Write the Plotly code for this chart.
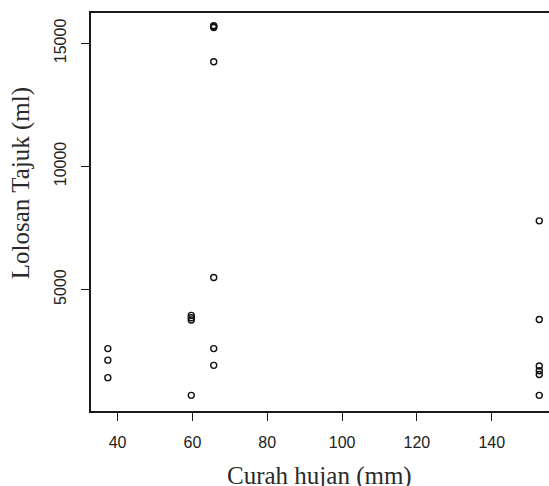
import plotly.graph_objects as go

# Data
curah_hujan = [37.4, 37.4, 37.4,
               59.7, 59.7, 59.7, 59.7,
               65.7, 65.7, 65.7, 65.7, 65.7, 65.7, 65.7,
               152.7, 152.7, 152.7, 152.7, 152.7, 152.7]
lolosan_tajuk = [2600, 2130, 1420,
                 3950, 3850, 3760, 700,
                 15720, 15640, 14250, 5490, 2600, 1920, 15680,
                 7790, 3780, 1890, 1700, 1550, 700]

x_ticks = [40, 60, 80, 100, 120, 140]
y_ticks = [5000, 10000, 15000]
x_title = "Curah hujan (mm)"
y_title = "Lolosan Tajuk (ml)"

fig = go.Figure()
fig.add_trace(go.Scatter(
    x=curah_hujan, y=lolosan_tajuk, mode="markers",
    marker=dict(symbol="circle-open", size=6, color="#111",
                line=dict(width=1.4, color="#111")),
    showlegend=False, hoverinfo="x+y"))

W, H = 549, 486
ml, mt, mb, mr = 91, 13, 75, 0
fig.update_layout(
    width=W, height=H,
    margin=dict(l=ml, r=mr, t=mt, b=mb, pad=0),
    paper_bgcolor="white", plot_bgcolor="white",
    xaxis=dict(range=[32.9, 155.3], tickvals=x_ticks, ticktext=[str(v) for v in x_ticks],
               showgrid=False, zeroline=False,
               showline=True, linecolor="#1a1a1a", linewidth=1.6, mirror=True,
               ticks="outside", ticklen=8, tickwidth=1.2, tickcolor="#1a1a1a",
               ticklabelstandoff=8,
               tickfont=dict(family="Liberation Sans", size=16, color="#222")),
    yaxis=dict(range=[65, 16232], tickvals=y_ticks, ticktext=[str(v) for v in y_ticks],
               showgrid=False, zeroline=False,
               showline=True, linecolor="#1a1a1a", linewidth=1.6, mirror=False,
               ticks="outside", ticklen=8, tickwidth=1.2, tickcolor="#1a1a1a",
               tickangle=-90, ticklabelstandoff=9,
               tickfont=dict(family="Liberation Sans", size=16, color="#222")),
    annotations=[
        dict(text=x_title, xref="paper", yref="paper", x=0.498, y=-0.124,
             xanchor="center", yanchor="top", showarrow=False,
             font=dict(family="Liberation Serif", size=25, color="#2a2a2a")),
        dict(text=y_title, xref="paper", yref="paper", x=-0.151, y=0.572,
             xanchor="center", yanchor="middle", textangle=-90, showarrow=False,
             font=dict(family="Liberation Serif", size=25, color="#2a2a2a")),
    ],
)

fig.write_html("out.html", config={"displayModeBar": False},
               post_script="document.body.style.margin='0px';document.body.style.overflow='hidden';")
